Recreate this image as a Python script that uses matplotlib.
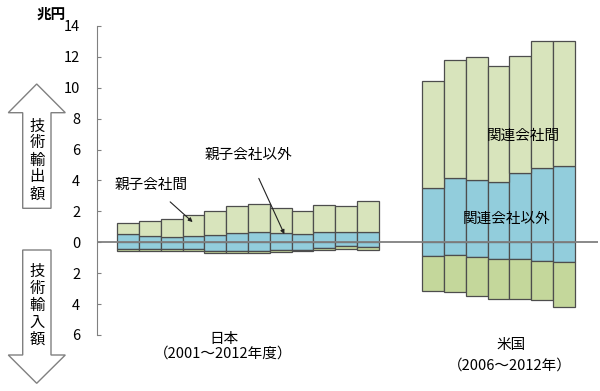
import numpy as np
import matplotlib
matplotlib.use("Agg")
import matplotlib.pyplot as plt
from matplotlib.patches import Polygon

plt.rcParams['font.family'] = ['Noto Sans CJK JP', 'DejaVu Sans']

# 日本 (2001～2012年度), 兆円
jp_exp_non = [0.53, 0.38, 0.36, 0.44, 0.47, 0.60, 0.64, 0.60, 0.55, 0.66, 0.66, 0.68]   # 親子会社以外
jp_exp_aff = [0.71, 0.97, 1.15, 1.33, 1.56, 1.77, 1.84, 1.62, 1.45, 1.77, 1.71, 2.01]   # 親子会社間
jp_imp_non = [0.45, 0.45, 0.45, 0.45, 0.55, 0.55, 0.58, 0.52, 0.48, 0.40, 0.27, 0.33]
jp_imp_aff = [0.10, 0.10, 0.10, 0.10, 0.12, 0.12, 0.12, 0.10, 0.10, 0.10, 0.15, 0.14]

# 米国 (2006～2012年), 兆円
us_exp_non = [3.52, 4.17, 4.02, 3.91, 4.49, 4.82, 4.97]   # 関連会社以外
us_exp_aff = [6.94, 7.63, 7.95, 7.50, 7.56, 8.21, 8.08]   # 関連会社間
us_imp_non = [0.90, 0.84, 0.97, 1.06, 1.10, 1.19, 1.27]
us_imp_aff = [2.23, 2.35, 2.50, 2.59, 2.57, 2.57, 2.94]

yticks = [-6, -4, -2, 0, 2, 4, 6, 8, 10, 12, 14]

W, H = 600, 391
fig = plt.figure(figsize=(6, 3.91), dpi=100)
ax = fig.add_axes([97 / W, 1 - 335 / H, 501 / W, 309 / H])


def px(x, y):
    return (x / W, 1 - y / H)


green = '#d8e4bc'
blue = '#92cddc'
green2 = '#c4d79b'
edge = '#4d4d4d'

x_jp = np.arange(len(jp_exp_non))
x_us = np.arange(len(us_exp_non)) + 14

for xs, en, ea, im_n, im_a in [(x_jp, jp_exp_non, jp_exp_aff, jp_imp_non, jp_imp_aff),
                                (x_us, us_exp_non, us_exp_aff, us_imp_non, us_imp_aff)]:
    en = np.array(en); ea = np.array(ea)
    im_n = np.array(im_n); im_a = np.array(im_a)
    ax.bar(xs, en, width=1, color=blue, edgecolor=edge, linewidth=0.9)
    ax.bar(xs, ea, bottom=en, width=1, color=green, edgecolor=edge, linewidth=0.9)
    ax.bar(xs, -im_n, width=1, color=blue, edgecolor=edge, linewidth=0.9)
    ax.bar(xs, -im_a, bottom=-im_n, width=1, color=green2, edgecolor=edge, linewidth=0.9)

ax.axhline(0, color='#808080', linewidth=1.3, zorder=5)

ax.set_xlim(-1.43, 21.57)
ax.set_ylim(-6, 14)
ax.set_yticks(yticks)
ax.set_yticklabels([str(abs(t)) for t in yticks], fontsize=10.5)
ax.tick_params(axis='y', direction='in', length=3, pad=12, color='#808080')
ax.set_xticks([])
for s in ['top', 'right', 'bottom']:
    ax.spines[s].set_visible(False)
ax.spines['left'].set_color('#808080')

# 系列ラベル
ax.annotate('親子会社間', xy=(2.96, 1.31), xytext=(1.05, 3.73), fontsize=10.5,
            ha='center', va='center',
            arrowprops=dict(arrowstyle='-|>', color='#222222', lw=0.8,
                            mutation_scale=6, shrinkA=8, shrinkB=0))
ax.annotate('親子会社以外', xy=(7.17, 0.53), xytext=(5.5, 5.67), fontsize=10.5,
            ha='center', va='center',
            arrowprops=dict(arrowstyle='-|>', color='#222222', lw=0.8,
                            mutation_scale=6, shrinkA=11, shrinkB=0))
fig.text(*px(523, 136), '関連会社間', fontsize=10.5, ha='center', va='center')
fig.text(*px(507, 219), '関連会社以外', fontsize=10.5, ha='center', va='center')

fig.text(*px(224, 339), '日本', fontsize=10.5, ha='center', va='center')
fig.text(*px(223, 354), '（2001～2012年度）', fontsize=10.5, ha='center', va='center')
fig.text(*px(511, 345), '米国', fontsize=10.5, ha='center', va='center')
fig.text(*px(510, 366), '（2006～2012年）', fontsize=10.5, ha='center', va='center')

fig.text(*px(51, 14), '兆円', fontsize=10.5, fontweight='bold', ha='center', va='center')

# 矢印
up = [(36.7, 84), (65.3, 112.7), (51, 112.7), (51, 208.3), (22.7, 208.3), (22.7, 112.7), (8.3, 112.7)]
down = [(22.7, 250), (51, 250), (51, 355), (65.3, 355), (36.7, 383.3), (8.3, 355), (22.7, 355)]
for pts in [up, down]:
    fig.patches.append(Polygon([px(x, y) for x, y in pts], closed=True, facecolor='white',
                               edgecolor='#808080', linewidth=1, transform=fig.transFigure))

fig.text(*px(37, 160), '\n'.join('技術輸出額'), fontsize=11, ha='center', va='center',
         linespacing=1.0)
fig.text(*px(37, 305), '\n'.join('技術輸入額'), fontsize=11, ha='center', va='center',
         linespacing=1.0)

fig.savefig('out.png', dpi=100)
